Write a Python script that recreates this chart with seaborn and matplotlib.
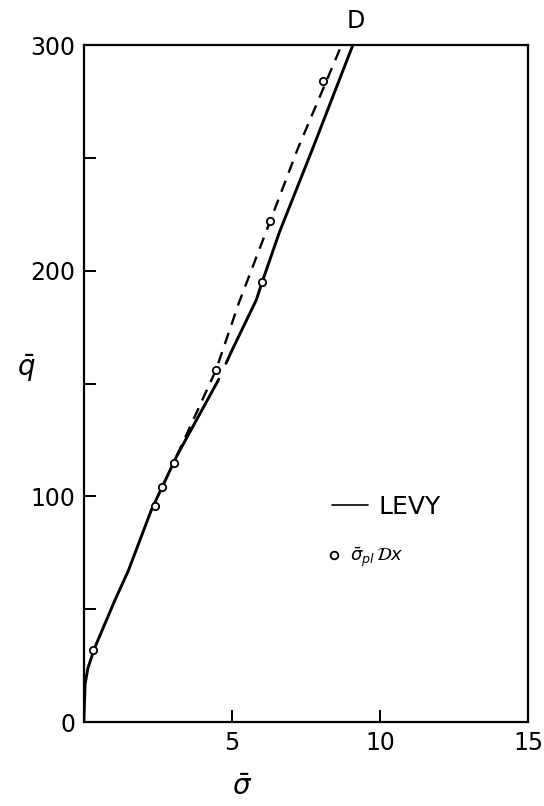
import numpy as np
import pandas as pd
import matplotlib
matplotlib.use("Agg")
import matplotlib.pyplot as plt
import seaborn as sns
from matplotlib.lines import Line2D

# Levy solution (solid), drawn in two pieces with a short break near 4.6
levy_x = [0.00, 0.045, 0.14, 0.37, 1.05, 1.50, 2.28, 3.14, 4.56,
          4.80, 5.01, 5.82, 6.02, 6.60, 7.72, 9.08]
levy_y = [0, 17, 24, 33, 54, 67, 94, 118, 152,
          159, 165, 187, 195, 217, 254, 300]
levy_seg = [0] * 9 + [1] * 7

# Dashed branch rising to point D
dash_x = [3.14, 4.46, 5.24, 6.29, 7.22, 8.70]
dash_y = [118, 156, 186, 222, 254, 300]

# Computed points (open circles)
pts_x = [0.31, 2.40, 2.63, 3.03, 4.46, 6.02, 6.29, 8.07]
pts_y = [32, 96, 104, 115, 156, 195, 222, 284]

x_ticks = [5, 10, 15]
y_ticks = [0, 50, 100, 150, 200, 250, 300]
y_tick_labels = ["0", "", "100", "", "200", "", "300"]

sns.set_theme(style="white")
plt.rcParams["font.family"] = ["Liberation Sans Narrow", "DejaVu Sans Condensed", "DejaVu Sans"]
plt.rcParams["mathtext.fontset"] = "dejavusans"

fig = plt.figure(figsize=(5.44, 8.06), dpi=100)
ax = fig.add_axes([0.154, 0.104, 0.817, 0.840])

levy = pd.DataFrame({"s": levy_x, "q": levy_y, "seg": levy_seg})
sns.lineplot(data=levy, x="s", y="q", units="seg", estimator=None, sort=False,
             color="black", lw=2.1, ax=ax)

dash = pd.DataFrame({"s": dash_x, "q": dash_y})
sns.lineplot(data=dash, x="s", y="q", estimator=None, sort=False,
             color="black", lw=1.7, dashes=False, ax=ax)
ax.lines[-1].set_dashes((5.0, 3.6))

pts = pd.DataFrame({"s": pts_x, "q": pts_y})
sns.scatterplot(data=pts, x="s", y="q", marker="o", s=28, facecolor="white",
                edgecolor="black", linewidth=1.3, zorder=5, ax=ax)

ax.set_xlim(0, 15)
ax.set_ylim(0, 300)
ax.set_xticks(x_ticks)
ax.set_xticklabels([str(t) for t in x_ticks])
ax.set_yticks(y_ticks)
ax.set_yticklabels(y_tick_labels)
ax.tick_params(axis="both", direction="in", length=8.5, width=1.4, color="black",
               labelsize=17, labelcolor="black", bottom=True, left=True,
               top=False, right=False)
ax.tick_params(axis="y", pad=6)
ax.tick_params(axis="x", pad=6)
for sp in ax.spines.values():
    sp.set_color("black")
    sp.set_linewidth(1.6)

ax.set_xlabel(r"$\bar{\sigma}$", fontsize=20, color="black")
ax.xaxis.set_label_coords(0.356, -0.075)
ax.set_ylabel(r"$\bar{q}$", fontsize=20, color="black", rotation=0)
ax.yaxis.set_label_coords(-0.13, 0.50)

ax.annotate("D", xy=(9.18, 300), xytext=(0, 9), textcoords="offset points",
            ha="center", va="bottom", fontsize=17, color="black")

# Key: one entry per row, each with its own spacing
h_line = Line2D([], [], color="black", lw=1.2)
h_pts = Line2D([], [], ls="none", marker="o", markersize=5.5,
               markerfacecolor="white", markeredgecolor="black", markeredgewidth=1.3)
leg1 = ax.legend([h_line], ["LEVY"], loc="center left",
                 bbox_to_anchor=(0.5586, 0.318), frameon=False, fontsize=18,
                 handlelength=1.45, handletextpad=0.4, borderpad=0,
                 borderaxespad=0, labelcolor="black")
ax.add_artist(leg1)
ax.legend([h_pts], [r"$\bar{\sigma}_{pl}\,\mathcal{D}x$"], loc="center left",
          bbox_to_anchor=(0.552, 0.244), frameon=False, fontsize=13,
          handlelength=0.5, handletextpad=0.65, borderpad=0,
          borderaxespad=0, labelcolor="black")

fig.savefig("out.png", dpi=100, facecolor="white")
